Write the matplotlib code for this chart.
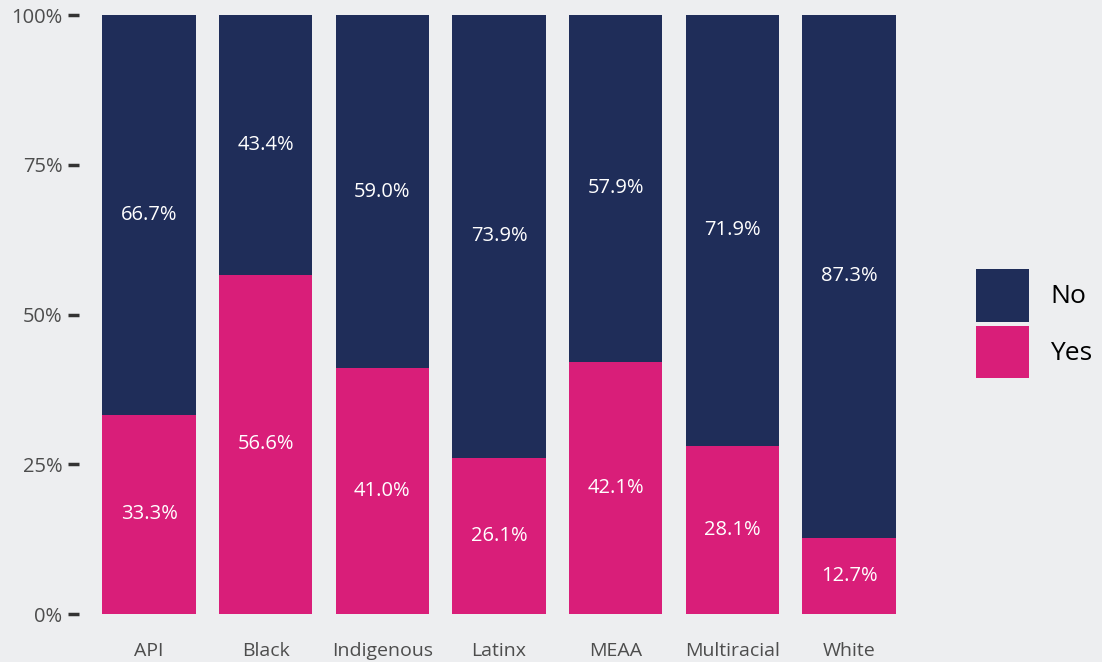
import matplotlib.pyplot as plt
import numpy as np

plt.rcParams['font.family'] = ['Open Sans', 'DejaVu Sans']

groups = ['API', 'Black', 'Indigenous', 'Latinx', 'MEAA', 'Multiracial', 'White']
yes = [33.3, 56.6, 41.0, 26.1, 42.1, 28.1, 12.7]
no = [66.7, 43.4, 59.0, 73.9, 57.9, 71.9, 87.3]

bg = '#EDEEF0'
navy = '#1F2D59'
pink = '#D91E79'

fig = plt.figure(figsize=(11.02, 6.62), dpi=100, facecolor=bg)
ax = fig.add_axes([0.0717, 0.0725, 0.7623, 0.9048], facecolor=bg)

x = np.arange(1, len(groups) + 1)
yes_f = np.array(yes) / 100
no_f = np.array(no) / 100
b_yes = ax.bar(x, yes_f, width=0.8, color=pink, label='Yes')
b_no = ax.bar(x, no_f, width=0.8, bottom=yes_f, color=navy, label='No')

for xi, y, n in zip(x, yes_f, no_f):
    ax.text(xi, y / 2, f'{y*100:.1f}%', ha='center', va='center', color='white', fontsize=14.5)
    ax.text(xi, y + n / 2, f'{n*100:.1f}%', ha='center', va='center', color='white', fontsize=14.5)

ax.set_xlim(0.4, 7.6)
ax.set_ylim(0, 1)
ax.set_yticks([0, 0.25, 0.5, 0.75, 1.0])
ax.set_yticklabels(['0%', '25%', '50%', '75%', '100%'])
ax.set_xticks(x)
ax.set_xticklabels(groups)
ax.tick_params(axis='y', length=8, width=2.5, color='#333333', labelcolor='#4D4D4D', labelsize=14.5, pad=4)
ax.tick_params(axis='x', length=0, labelcolor='#4D4D4D', labelsize=14, pad=20)
for s in ax.spines.values():
    s.set_visible(False)

leg = fig.legend(handles=[b_no, b_yes], labels=['No', 'Yes'], loc='center left',
                 bbox_to_anchor=(0.8857, 0.511), frameon=False, fontsize=19,
                 handlelength=2.0, handleheight=2.7, handletextpad=0.8, labelspacing=0.15,
                 borderaxespad=0, borderpad=0)

fig.savefig('out.png', dpi=100, facecolor=bg)
